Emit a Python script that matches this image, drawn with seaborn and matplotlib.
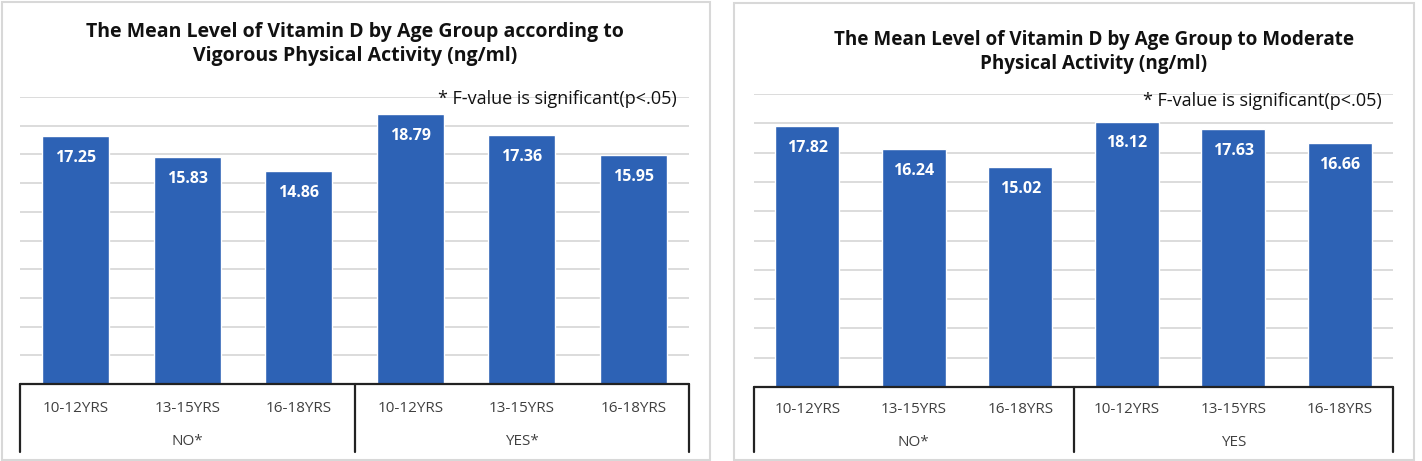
import matplotlib
matplotlib.use('Agg')
import matplotlib.pyplot as plt
import matplotlib.transforms as mtransforms
from matplotlib.patches import Rectangle
import seaborn as sns
import pandas as pd

# Data
ages = ['10-12YRS', '13-15YRS', '16-18YRS']
vigorous_no = [17.25, 15.83, 14.86]
vigorous_yes = [18.79, 17.36, 15.95]
moderate_no = [17.82, 16.24, 15.02]
moderate_yes = [18.12, 17.63, 16.66]
vigorous_groups = ['NO*', 'YES*']
moderate_groups = ['NO*', 'YES']
vigorous_title = 'The Mean Level of Vitamin D by Age Group according to\nVigorous Physical Activity (ng/ml)'
moderate_title = 'The Mean Level of Vitamin D by Age Group to Moderate\nPhysical Activity (ng/ml)'
note = '* F-value is significant(p<.05)'

BAR = '#2D62B5'

sns.set_theme(style='white')
plt.rcParams['font.family'] = ['Liberation Sans Narrow', 'Open Sans', 'DejaVu Sans']

fig = plt.figure(figsize=(14.22, 4.61), dpi=100)
W, H = 1422, 461


def fx(px):
    return px / W


def fy(py):
    return 1 - py / H


def panel(rect_px, title, title_xy, title_size, no_vals, yes_vals, groups, note_xy,
          lab_y, grp_y, bot_y):
    x0, top, x1, base = rect_px
    ax = fig.add_axes([fx(x0), fy(base), fx(x1) - fx(x0), fy(top) - fy(base)])
    df = pd.DataFrame({
        'key': [f'{g}|{a}' for g in groups for a in ages],
        'value': no_vals + yes_vals,
    })
    sns.barplot(data=df, x='key', y='value', color=BAR, saturation=1,
                width=0.6, ax=ax, zorder=3)
    ax.set_xlim(-0.5, 5.5)
    ax.set_ylim(0, 20)
    ax.set_yticks(range(0, 21, 2))
    ax.set_yticklabels([])
    ax.tick_params(left=False, bottom=False, labelbottom=False)
    ax.set_xlabel('')
    ax.set_ylabel('')
    ax.grid(axis='y', color='#d9d9d9', linewidth=1.3, zorder=0)
    for s in ax.spines.values():
        s.set_visible(False)

    # value labels inside bar tops
    for i, v in enumerate(df['value']):
        ax.annotate(f'{v:.2f}', (i, v), xytext=(0, -10), textcoords='offset points',
                    ha='center', va='top', color='white', fontsize=11.5,
                    fontweight='bold')

    # category table below the axis
    tr = mtransforms.blended_transform_factory(ax.transData, ax.transAxes)
    ax.plot([-0.5, 5.5], [0, 0], color='#222222', lw=1.6, transform=tr, clip_on=False, zorder=5)
    for xv in (-0.5, 2.5, 5.5):
        ax.plot([xv, xv], [0, bot_y], color='#222222', lw=1.6, transform=tr, clip_on=False)
    for i, key in enumerate(df['key']):
        ax.text(i, lab_y, key.split('|')[1], transform=tr, ha='center', va='center',
                fontsize=11, color='#404040')
    for j, g in enumerate(groups):
        ax.text(1 + 3 * j, grp_y, g, transform=tr, ha='center', va='center',
                fontsize=11, color='#404040')

    fig.text(fx(title_xy[0]), fy(title_xy[1]), title, ha='center', va='center',
             fontsize=title_size, fontweight='bold', color='#111111', linespacing=1.2)
    fig.text(fx(note_xy[0]), fy(note_xy[1]), note, ha='right', va='center',
             fontsize=13, color='#111111')
    return ax


panel((20, 97, 689, 384), vigorous_title, (355, 44), 14, vigorous_no, vigorous_yes,
      vigorous_groups, (677, 99), -0.084, -0.199, -0.237)
panel((754, 94, 1393, 387), moderate_title, (1094, 52), 13.6, moderate_no, moderate_yes,
      moderate_groups, (1382, 101), -0.078, -0.188, -0.222)

# light gray frames around each chart
for (l, t, r, b) in [(2, 2, 710, 460), (734, 3, 1414, 460)]:
    fig.add_artist(Rectangle((fx(l), fy(b)), fx(r) - fx(l), fy(t) - fy(b),
                             transform=fig.transFigure, fill=False,
                             edgecolor='#d8d8d8', linewidth=1.5))

fig.savefig('out.png', dpi=100)
